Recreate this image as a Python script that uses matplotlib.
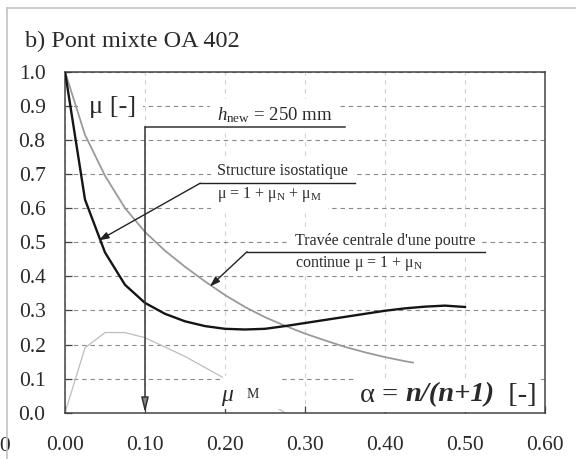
import numpy as np
import matplotlib
matplotlib.use("Agg")
from matplotlib import pyplot as plt
from matplotlib.patches import Rectangle
from matplotlib.offsetbox import TextArea, HPacker, AnnotationBbox

plt.rcParams['font.family'] = ['Liberation Serif', 'DejaVu Serif']
plt.rcParams['mathtext.fontset'] = 'custom'
plt.rcParams['mathtext.rm'] = 'Liberation Serif'
plt.rcParams['mathtext.it'] = 'Liberation Serif:italic'

# structure isostatique: mu = 1 + mu_N + mu_M
alpha_iso = [0, 0.025, 0.05, 0.075, 0.10, 0.125, 0.15, 0.175, 0.20, 0.225, 0.25,
             0.275, 0.30, 0.325, 0.35, 0.375, 0.40, 0.425, 0.45, 0.475, 0.50]
mu_iso = [1.0, 0.625, 0.47, 0.375, 0.322, 0.29, 0.268, 0.254, 0.246, 0.244, 0.246,
          0.254, 0.263, 0.272, 0.281, 0.29, 0.299, 0.306, 0.311, 0.314, 0.31]

# travee centrale d'une poutre continue: mu = 1 + mu_N
alpha_cont = [0, 0.025, 0.05, 0.075, 0.10, 0.125, 0.15, 0.175, 0.20, 0.225, 0.25,
              0.275, 0.30, 0.325, 0.35, 0.375, 0.40, 0.425, 0.435]
mu_cont = [1.0, 0.815, 0.695, 0.60, 0.53, 0.475, 0.428, 0.385, 0.345, 0.31, 0.28,
           0.255, 0.232, 0.212, 0.193, 0.177, 0.163, 0.151, 0.147]

# mu_M
alpha_m = [0, 0.025, 0.05, 0.075, 0.10, 0.15, 0.20, 0.25, 0.275]
mu_m = [0.0, 0.19, 0.235, 0.235, 0.22, 0.165, 0.10, 0.035, 0.0]

xticks = [0.0, 0.1, 0.2, 0.3, 0.4, 0.5, 0.6]
yticks = [0.0, 0.1, 0.2, 0.3, 0.4, 0.5, 0.6, 0.7, 0.8, 0.9, 1.0]
h_new = 0.10  # alpha for h_new = 250 mm

fig = plt.figure(figsize=(5.76, 4.59), dpi=100)
ax = fig.add_axes([65/576, 1 - 412.7/459, 480/576, 341/459])

txt = '#2a2a2a'
mask = dict(fc='white', ec='none')

ax.plot(alpha_m, mu_m, color='#bdbdbd', lw=0.9, zorder=2)
ax.plot(alpha_cont, mu_cont, color='#9a9a9a', lw=1.3, zorder=4)
ax.plot(alpha_iso, mu_iso, color='#151515', lw=1.7, zorder=4)

ax.set_xlim(0, 0.6)
ax.set_ylim(0, 1.0)
ax.set_xticks(xticks)
ax.set_yticks(yticks)
ax.set_xticklabels(['%.2f' % v for v in xticks])
ax.set_yticklabels(['%.1f' % v for v in yticks])
ax.tick_params(direction='in', length=5, width=0.9, color='#444', labelsize=15.5,
               labelcolor=txt)
ax.tick_params(axis='x', pad=17)
ax.tick_params(axis='y', pad=14)
for s in ax.spines.values():
    s.set_color('#444')
    s.set_linewidth(1.1)

ax.set_axisbelow(True)
ax.yaxis.grid(True, ls=(0, (4, 3.5)), color='#8a8a8a', lw=0.8)
ax.xaxis.grid(True, ls=(0, (4, 4)), color='#d2d2d2', lw=0.8)

# clipped tick label at the left edge
ax.text(-0.095, -0.098, '-0.10', ha='center', va='center', fontsize=15.5, color=txt,
        clip_on=False)

# mu [-]
ax.text(0.03, 0.88, 'μ [-]', fontsize=19, color=txt, va='baseline',
        bbox=dict(boxstyle='square,pad=0.25', **mask), zorder=3)

# h_new line with arrow
ax.plot([h_new, 0.35], [0.837, 0.837], color='#333', lw=1.1, zorder=5)
ax.annotate('', xy=(h_new, 0.0), xytext=(h_new, 0.837),
            arrowprops=dict(arrowstyle='-|>,head_length=0.9,head_width=0.22',
                            color='#333', fc='#888', lw=1.1, shrinkA=0, shrinkB=0),
            zorder=5)
ax.text(0.262, 0.858, r'$h_{\mathregular{new}}$ = 250 mm', fontsize=13.5, color=txt,
        ha='center', va='baseline', bbox=dict(boxstyle='square,pad=0.35', **mask), zorder=3)

# structure isostatique
ax.text(0.19, 0.697, 'Structure isostatique', fontsize=11.5, color=txt, va='baseline',
        bbox=dict(boxstyle='square,pad=0.35', **mask), zorder=3)
ax.text(0.19, 0.629, r'μ = 1 + μ$_\mathregular{N}$ + μ$_\mathregular{M}$', fontsize=11.5,
        color=txt, va='baseline', bbox=dict(boxstyle='square,pad=0.35', **mask), zorder=3)
ax.plot([0.169, 0.3625], [0.673, 0.673], color='#222', lw=1.0, zorder=5)
ax.annotate('', xy=(0.042, 0.505), xytext=(0.169, 0.673),
            arrowprops=dict(arrowstyle='-|>,head_length=0.6,head_width=0.2',
                            color='#222', lw=1.0, shrinkA=0, shrinkB=0), zorder=5)

# travee centrale
ax.text(0.2875, 0.491, "Travée centrale d'une poutre", fontsize=11.5, color=txt,
        va='baseline', bbox=dict(boxstyle='square,pad=0.35', **mask), zorder=3)
ax.text(0.2875, 0.427, r'continue μ = 1 + μ$_\mathregular{N}$', fontsize=11.5,
        color=txt, va='baseline', bbox=dict(boxstyle='square,pad=0.2', **mask), zorder=3)
ax.plot([0.2275, 0.525], [0.472, 0.472], color='#222', lw=1.0, zorder=5)
ax.annotate('', xy=(0.181, 0.37), xytext=(0.2275, 0.472),
            arrowprops=dict(arrowstyle='-|>,head_length=0.6,head_width=0.2',
                            color='#222', lw=1.0, shrinkA=0, shrinkB=0), zorder=5)

# mu_M label (masks the curve behind it)
ax.add_patch(Rectangle((0.197, 0.012), 0.073, 0.095, fc='white', ec='none', zorder=3))
ax.text(0.2025, 0.035, 'μ', fontsize=17, style='italic', color=txt, ha='center',
        va='baseline', zorder=4)
ax.text(0.235, 0.042, 'M', fontsize=10, color=txt, ha='center', va='baseline', zorder=4)

# alpha label
parts = [TextArea('α = ', textprops=dict(fontsize=20.5, color=txt)),
         TextArea('n/(n+1)', textprops=dict(fontsize=20.5, color=txt, style='italic',
                                            weight='bold')),
         TextArea('  [-]', textprops=dict(fontsize=20.5, color=txt))]
box = HPacker(children=parts, align='baseline', pad=0, sep=0)
ab = AnnotationBbox(box, (0.59, 0.015), xycoords='data', box_alignment=(1, 0),
                    frameon=True, pad=0.3, bboxprops=dict(fc='white', ec='none'),
                    zorder=3)
ax.add_artist(ab)

# title and outer frame
fig.text(25/576, 1 - 47/459, 'b) Pont mixte OA 402', fontsize=17.5, color=txt,
         va='baseline')
fig.add_artist(plt.Line2D([7/576, 1], [1 - 8/459, 1 - 8/459], transform=fig.transFigure,
                          color='#c4c4c4', lw=1.2))
fig.add_artist(plt.Line2D([7/576, 7/576], [0, 1 - 8/459], transform=fig.transFigure,
                          color='#c4c4c4', lw=1.2))

fig.savefig('out.png', dpi=100)
